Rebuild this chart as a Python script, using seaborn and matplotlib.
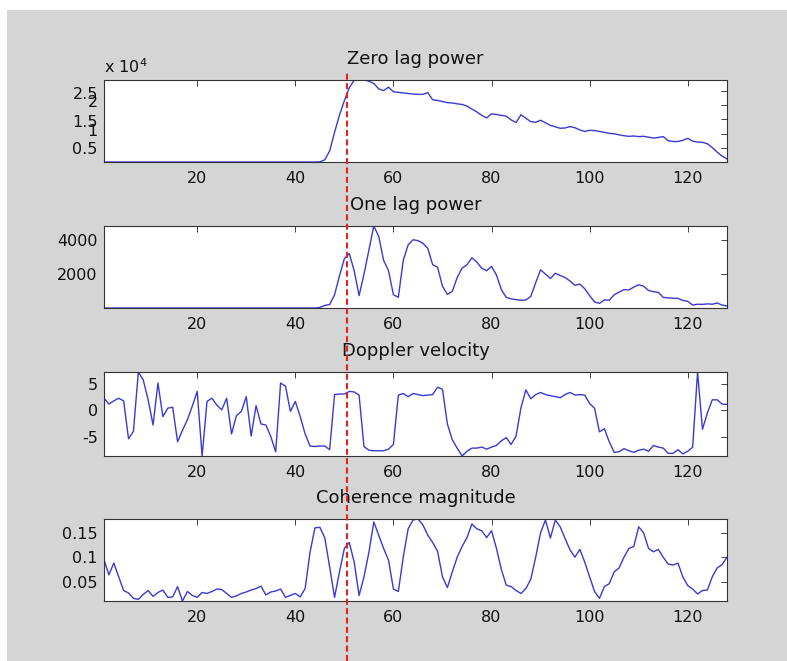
import numpy as np
import pandas as pd
import matplotlib
matplotlib.use("Agg")
import matplotlib.pyplot as plt
import seaborn as sns
from matplotlib.ticker import FuncFormatter
from matplotlib.patches import Rectangle
from matplotlib.lines import Line2D
import matplotlib.transforms as mtransforms

# ---------------- data ----------------
range_gates = list(range(1, 129))

zero_lag_power = [
    160, 160, 160, 160, 160, 160, 160, 160, 160, 160,
    160, 160, 160, 160, 160, 160, 160, 160, 160, 160,
    160, 160, 160, 160, 160, 160, 160, 160, 160, 160,
    160, 160, 160, 160, 160, 160, 160, 160, 160, 160,
    160, 160, 160, 160, 200, 900, 4000, 10500, 16500, 21500,
    26000, 28600, 28700, 28700, 28300, 27500, 25600, 25000, 26200, 24600,
    24400, 24200, 24000, 23800, 23700, 23700, 24300, 21800, 21600, 21200,
    20800, 20700, 20400, 20200, 19600, 18600, 17600, 16400, 15500, 16900,
    16700, 16400, 16100, 14800, 13900, 16600, 15400, 14200, 14000, 14700,
    13800, 12900, 12400, 11900, 12000, 12500, 12100, 11300, 10800, 11200,
    11100, 10800, 10500, 10100, 10000, 9600, 9300, 9100, 9200, 9000,
    9100, 8800, 8500, 8700, 9000, 7600, 7300, 7300, 7700, 8400,
    7400, 7100, 7000, 6500, 5200, 3600, 2200, 1200,
]

one_lag_power = [
    30, 30, 30, 30, 30, 30, 30, 30, 30, 30,
    30, 30, 30, 30, 30, 30, 30, 30, 30, 30,
    30, 30, 30, 30, 30, 30, 30, 30, 30, 30,
    30, 30, 30, 30, 30, 30, 30, 30, 30, 30,
    30, 30, 30, 30, 60, 180, 230, 800, 1900, 2900,
    3200, 2200, 750, 2000, 3400, 4800, 4200, 2800, 2200, 800,
    650, 2800, 3700, 4000, 3950, 3800, 3500, 2550, 2400, 1300,
    820, 1000, 1800, 2350, 2550, 2950, 2700, 2350, 2200, 2450,
    1950, 1100, 650, 560, 520, 480, 500, 700, 1500, 2250,
    2000, 1750, 2050, 1920, 1800, 1600, 1350, 1420, 1150, 750,
    380, 300, 500, 480, 800, 950, 1100, 1080, 1250, 1380,
    1300, 1050, 980, 940, 650, 620, 600, 590, 470, 420,
    200, 250, 240, 270, 250, 320, 200, 150,
]

doppler_velocity = [
    2.3, 1.2, 1.8, 2.3, 1.8, -5.4, -4.0, 7.3, 5.8, 2.0,
    -2.8, 5.2, -1.2, 0.4, 0.6, -6.0, -3.8, -1.8, 0.8, 3.6,
    -8.7, 1.7, 2.3, 1.0, 0.1, 2.3, -4.5, -1.0, -0.2, 2.6,
    -4.9, 0.9, -2.6, -2.8, -5.0, -7.9, 5.2, 4.6, -0.2, 1.7,
    -1.2, -4.5, -6.8, -6.9, -6.8, -6.8, -7.5, 3.0, 3.1, 3.1,
    3.6, 3.5, 2.9, -6.9, -7.6, -7.7, -7.7, -7.7, -7.4, -6.5,
    2.9, 3.2, 2.6, 3.2, 3.0, 2.8, 2.9, 3.0, 4.4, 4.0,
    -2.6, -5.6, -7.2, -8.7, -7.8, -7.2, -7.2, -7.0, -7.4, -7.0,
    -6.7, -5.8, -5.2, -6.5, -4.9, 0.5, 3.9, 2.2, 3.0, 3.4,
    3.0, 2.8, 2.6, 2.4, 3.0, 3.4, 2.9, 3.0, 2.9, 1.3,
    0.4, -4.1, -3.5, -6.0, -8.0, -7.9, -7.3, -7.7, -8.0, -7.6,
    -7.4, -7.8, -6.7, -7.0, -7.2, -8.2, -8.2, -7.5, -8.3, -7.8,
    -7.0, 7.3, -3.6, -0.5, 2.0, 2.0, 1.2, 1.1,
]

coherence_magnitude = [
    0.095, 0.064, 0.088, 0.060, 0.032, 0.027, 0.016, 0.014, 0.024, 0.032,
    0.020, 0.028, 0.033, 0.018, 0.019, 0.040, 0.0106, 0.030, 0.022, 0.018,
    0.028, 0.026, 0.030, 0.035, 0.034, 0.026, 0.018, 0.021, 0.026, 0.029,
    0.033, 0.036, 0.041, 0.023, 0.029, 0.031, 0.035, 0.018, 0.022, 0.026,
    0.019, 0.036, 0.110, 0.160, 0.161, 0.140, 0.080, 0.018, 0.070, 0.118,
    0.130, 0.090, 0.022, 0.060, 0.110, 0.172, 0.145, 0.118, 0.094, 0.035,
    0.030, 0.100, 0.158, 0.176, 0.178, 0.166, 0.145, 0.130, 0.112, 0.060,
    0.038, 0.070, 0.100, 0.122, 0.140, 0.168, 0.158, 0.154, 0.140, 0.154,
    0.118, 0.075, 0.043, 0.040, 0.032, 0.026, 0.036, 0.055, 0.100, 0.150,
    0.176, 0.139, 0.176, 0.162, 0.138, 0.115, 0.100, 0.116, 0.090, 0.060,
    0.030, 0.016, 0.040, 0.046, 0.070, 0.078, 0.100, 0.118, 0.122, 0.162,
    0.150, 0.118, 0.111, 0.116, 0.100, 0.086, 0.084, 0.088, 0.060, 0.042,
    0.035, 0.025, 0.032, 0.033, 0.060, 0.078, 0.085, 0.100,
]

titles = ["Zero lag power", "One lag power", "Doppler velocity", "Coherence magnitude"]
x_ticks = [20, 40, 60, 80, 100, 120]
y_ticks = [
    [5000, 10000, 15000, 20000, 25000],
    [2000, 4000],
    [-5, 0, 5],
    [0.05, 0.1, 0.15],
]
marker_gate = 50.5

# ---------------- style ----------------
sns.set_theme(style="white")
plt.rcParams["font.family"] = ["DejaVu Sans"]
plt.rcParams["mathtext.fontset"] = "dejavusans"

W, H = 787, 661
fig = plt.figure(figsize=(W / 100, H / 100), dpi=100, facecolor="white")
fig.add_artist(Rectangle((7 / W, 0), 1, 1 - 10 / H, transform=fig.transFigure,
                         facecolor="#d5d5d5", edgecolor="none", zorder=-10))

line_color = "#3a3ad0"
text_color = "#111111"
series = [zero_lag_power, one_lag_power, doppler_velocity, coherence_magnitude]
boxes = [(80, 162), (226, 308), (372, 456), (519, 601)]
left_px, width_px = 104, 623

axes = []
for i, (vals, title, yt, (top, bot)) in enumerate(zip(series, titles, y_ticks, boxes)):
    ax = fig.add_axes([left_px / W, 1 - bot / H, width_px / W, (bot - top) / H])
    ax.set_facecolor("white")
    df = pd.DataFrame({"gate": range_gates, "value": vals})
    sns.lineplot(data=df, x="gate", y="value", ax=ax, color=line_color,
                 linewidth=1.0, legend=False)
    ax.set_xlim(1, 128)
    ax.set_ylim(min(vals), max(vals))
    ax.set_xticks(x_ticks)
    ax.set_yticks(yt)
    ax.set_xlabel("")
    ax.set_ylabel("")
    if i == 0:
        ax.yaxis.set_major_formatter(FuncFormatter(lambda v, p: f"{v / 1e4:g}"))
        ax.text(0.0, 1.0 + 7 / (bot - top), r"x 10$^{4}$", transform=ax.transAxes,
                ha="left", va="baseline", fontsize=11.5, color=text_color)
    else:
        ax.yaxis.set_major_formatter(FuncFormatter(lambda v, p: f"{v:g}"))
    ax.tick_params(direction="in", top=True, right=True, length=4, width=0.6,
                   labelsize=11.5, colors="#222222", labelcolor=text_color)
    ax.tick_params(axis="x", pad=6.5)
    ax.tick_params(axis="y", pad=4.5)
    for s in ax.spines.values():
        s.set_visible(True)
        s.set_color("#333333")
        s.set_linewidth(0.8)
    ax.set_title(title, fontsize=13, pad=11.5, color=text_color)
    axes.append(ax)

# crowded tick labels of the first panel sit slightly off their ticks (as in the source)
label_shift_px = [0, 4, -1.7, 3.6, -2.3]
for tick, dy in zip(axes[0].yaxis.get_major_ticks(), label_shift_px):
    lab = tick.label1
    lab.set_transform(lab.get_transform() +
                      mtransforms.ScaledTranslation(0, dy / 100, fig.dpi_scale_trans))

trans = mtransforms.blended_transform_factory(axes[0].transData, fig.transFigure)
fig.add_artist(Line2D([marker_gate, marker_gate], [0, 1 - 73 / H], transform=trans,
                      color="#e82020", linewidth=1.5, linestyle=(0, (2.9, 1.6)),
                      zorder=10))

fig.savefig("out.png", dpi=100, facecolor=fig.get_facecolor())
